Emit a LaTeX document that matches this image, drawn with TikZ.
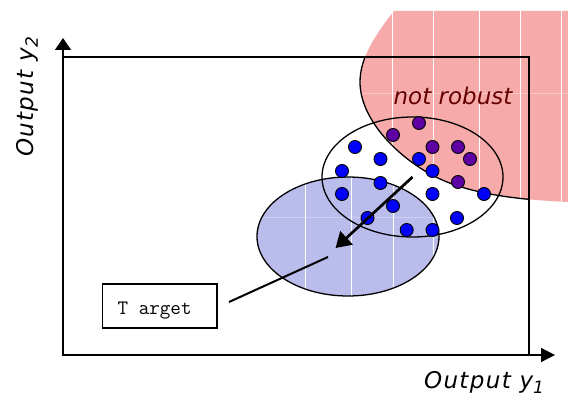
\documentclass[tikz,border=0pt]{standalone}
\usepackage{fontspec}
\usetikzlibrary{arrows.meta,shapes.geometric,calc}
\newfontfamily\dvs{DejaVu Sans}
\newfontfamily\dvsls[LetterSpace=6]{DejaVu Sans}
\definecolor{redfill}{RGB}{247,170,170}
\definecolor{redline}{RGB}{252,200,200}
\definecolor{bluefill}{RGB}{186,188,236}
\definecolor{blueline}{RGB}{205,206,244}
\definecolor{dotblue}{RGB}{0,0,255}
\definecolor{dotpurple}{RGB}{95,0,165}
\definecolor{textred}{RGB}{100,0,0}
\begin{document}
\begin{tikzpicture}[x=1pt,y=-1pt,
  dotbase/.style={circle,draw=black,line width=0.9pt,inner sep=0pt,minimum size=13pt},
  bdot/.style={dotbase,fill=dotblue},
  pdot/.style={dotbase,fill=dotpurple},
  regionoutline/.style={draw=black,line width=1.3pt},
  axisline/.style={line width=1.3pt},
  gridline/.style={white,line width=1.1pt},
  axislabel/.style={font=\dvsls\itshape\fontsize{23}{27}\selectfont,inner sep=0pt,anchor=base},
  cloud/.style={ellipse,inner sep=0pt,regionoutline},
  bigarrow/.style={line width=2.7pt,-{Triangle[length=15pt,width=18pt]}},
  targetbox/.style={draw=black,line width=1.6pt,minimum width=114.4pt,minimum height=44pt,inner sep=0pt},
  targettext/.style={font=\ttfamily\fontsize{20.5}{24}\selectfont,inner sep=0pt,anchor=base west},
]
\useasboundingbox (0,0) rectangle (568,396);

% blue (target) region fill
\fill[bluefill] (348,236.5) ellipse [x radius=91pt, y radius=59.5pt];
\begin{scope}
  \clip (348,236.5) ellipse [x radius=91pt, y radius=59.5pt];
  \draw[blueline,line width=1pt] (250,217.3) -- (445,217.3);
  \foreach \gx in {305.7,351.7,393.3,433.3} \draw[gridline] (\gx,170) -- (\gx,300);
\end{scope}

% red (not robust) region fill
\fill[redfill] (394,11) -- (568,11) -- (568,202)
  .. controls (500,199) and (460,190) .. (432,175)
  .. controls (395,155) and (360,118) .. (360,82)
  .. controls (360,58) and (375,35) .. (394,11) -- cycle;
\begin{scope}
  \clip (394,11) -- (568,11) -- (568,202)
  .. controls (500,199) and (460,190) .. (432,175)
  .. controls (395,155) and (360,118) .. (360,82)
  .. controls (360,58) and (375,35) .. (394,11) -- cycle;
  \draw[redline,line width=1pt] (350,94) -- (568,94);
  \foreach \gx in {392.3,433.3,479.3,520.7,561.7} \draw[gridline] (\gx,0) -- (\gx,210);
\end{scope}

% frame
\draw[line width=1.1pt] (63,57) rectangle (529,355);

% axes
\coordinate (origin) at (63,355);
\coordinate (ytip) at (63,38);
\coordinate (xtip) at (555,355);
\draw[axisline,-{Triangle[length=12pt,width=16pt]}] (origin) -- (ytip);
\draw[axisline,-{Triangle[length=14pt,width=14pt]}] (origin) -- (xtip);

% outlines
\node[cloud,minimum width=181pt,minimum height=120pt] (cur) at (412.5,177) {};
\node[cloud,minimum width=182pt,minimum height=119pt] (tgt) at (348,236.5) {};
\begin{scope}
  \clip (63,57) rectangle (529,355);
  \draw[regionoutline] (394,11)
  .. controls (375,35) and (360,58) .. (360,82)
  .. controls (360,118) and (395,155) .. (432,175)
  .. controls (460,190) and (500,199) .. (568,202);
\end{scope}

\node[font=\dvs\itshape\fontsize{23}{27}\selectfont,text=textred,inner sep=0pt,anchor=base] (nr) at (453,105) {not robust};

% dots
\node[pdot] (d1) at (419,123) {};
\node[pdot] (d2) at (393,135) {};
\node[bdot] (d3) at (355,147) {};
\node[pdot] (d4) at (432.5,147) {};
\node[pdot] (d5) at (458,147) {};
\node[bdot] (d6) at (380.5,159) {};
\node[bdot] (d7) at (419,159) {};
\node[pdot] (d8) at (470,159) {};
\node[bdot] (d9) at (342,171) {};
\node[bdot] (d10) at (432.5,171) {};
\node[bdot] (d11) at (380.5,183) {};
\node[pdot] (d12) at (458,182) {};
\node[bdot] (d13) at (342,194) {};
\node[bdot] (d14) at (432.5,194) {};
\node[bdot] (d15) at (484,194) {};
\node[bdot] (d16) at (393,206) {};
\node[bdot] (d17) at (367.5,218) {};
\node[bdot] (d18) at (457,218) {};
\node[bdot] (d19) at (406.7,230) {};
\node[bdot] (d20) at (432.5,230) {};

% shift arrow
\draw[bigarrow] (cur.center) -- ($(cur.center)!1.193!(tgt.center)$);

% target label
\node[targetbox] (target) at (159.5,306) {};
\node[targettext] (targetlabel) at (117.5,314.3) {T arget};
\coordinate (tlstart) at (229,302);
\coordinate (tlend) at (328,257);
\draw[line width=2pt] (tlstart) -- (tlend);

% axis labels
\node[axislabel] (xlabel) at (484,388) {Output y\raisebox{-5pt}{\fontsize{17}{17}\selectfont 1}};
\node[axislabel,rotate=90] (ylabel) at (33,97) {Output y\raisebox{-5pt}{\fontsize{17}{17}\selectfont 2}};
\end{tikzpicture}
\end{document}
